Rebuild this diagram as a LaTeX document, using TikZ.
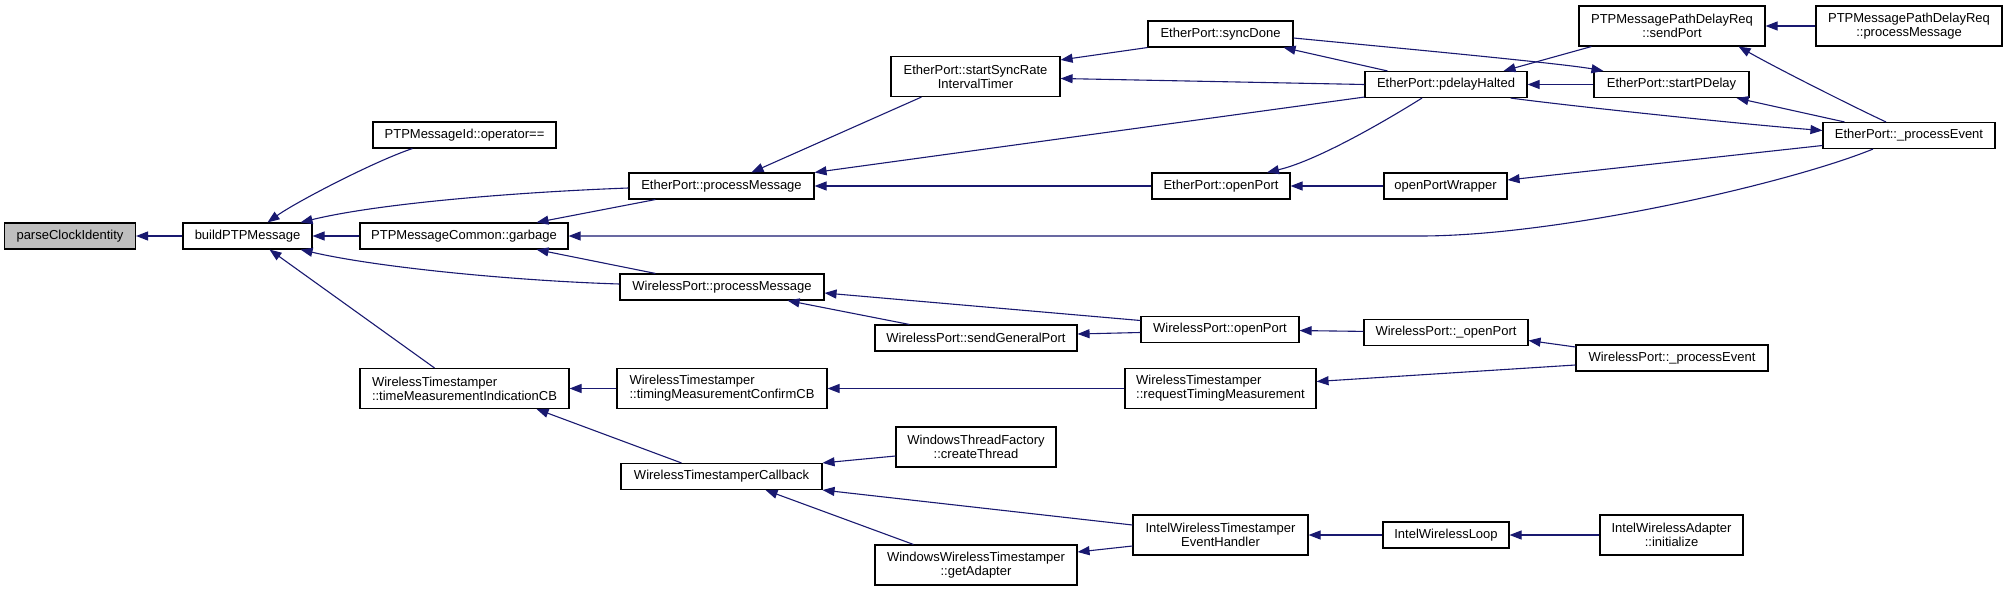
\documentclass[tikz,border=0pt]{standalone}
\usepackage{fontspec}
\setmainfont{Liberation Sans}
\usepackage{xcolor}
\usetikzlibrary{arrows.meta}
\definecolor{edgeblue}{HTML}{191970}

\begin{document}
\begin{tikzpicture}[
    x=1pt, y=-1pt,
    every node/.style={font=\fontsize{13}{14}\selectfont},
    fn/.style={draw, line width=1.1pt, fill=white, inner sep=0pt, minimum height=26pt, align=center},
    fntwo/.style={fn, minimum height=40pt},
    call/.style={draw=edgeblue, line width=1.1pt, -{Triangle[length=12pt, width=9pt]}}
  ]
  \useasboundingbox (0,0) rectangle (2008,591);

  % root
  \node[fn, fill=black!25, minimum width=131pt] (pci) at (70,236) {parseClockIdentity};
  \node[fn, minimum width=129pt] (bpm) at (247.5,236) {buildPTPMessage};

  % third column
  \node[fn, minimum width=183pt] (opeq) at (464.5,135) {PTPMessageId::operator==};
  \node[fn, minimum width=208pt] (garb) at (464,236) {PTPMessageCommon::garbage};
  \node[fntwo, align=left, minimum width=209pt] (tmicb) at (464.5,388.5) {WirelessTimestamper\\::timeMeasurementIndicationCB};

  % fourth column
  \node[fn, minimum width=185pt] (eppm) at (721.5,186) {EtherPort::processMessage};
  \node[fn, minimum width=204pt] (wppm) at (722,287) {WirelessPort::processMessage};
  \node[fntwo, align=left, minimum width=210pt] (tmccb) at (722,388.5) {WirelessTimestamper\\::timingMeasurementConfirmCB};
  \node[fn, minimum width=201pt] (wtscb) at (721.5,476.5) {WirelessTimestamperCallback};

  % fifth column
  \node[fntwo, minimum width=169pt] (ssrit) at (975.5,76.5) {EtherPort::startSyncRate\\IntervalTimer};
  \node[fn, minimum width=202pt] (sendgp) at (976,338) {WirelessPort::sendGeneralPort};
  \node[fntwo, minimum width=160pt] (crth) at (976,447) {WindowsThreadFactory\\::createThread};
  \node[fntwo, minimum width=202pt] (getad) at (976,565) {WindowsWirelessTimestamper\\::getAdapter};

  % sixth column
  \node[fn, minimum width=145pt] (syncd) at (1220.5,34) {EtherPort::syncDone};
  \node[fn, minimum width=138pt] (epopen) at (1221,186) {EtherPort::openPort};
  \node[fn, minimum width=158pt] (wpopen) at (1220,329.5) {WirelessPort::openPort};
  \node[fntwo, align=left, minimum width=191pt] (reqtm) at (1220.5,388.5) {WirelessTimestamper\\::requestTimingMeasurement};
  \node[fntwo, minimum width=175pt] (iwteh) at (1220.5,535) {IntelWirelessTimestamper\\EventHandler};

  % seventh column
  \node[fn, minimum width=162pt] (pdh) at (1446,84.5) {EtherPort::pdelayHalted};
  \node[fn, minimum width=123pt] (opw) at (1445.5,186) {openPortWrapper};
  \node[fn, minimum width=164pt] (wpopenu) at (1446,332.5) {WirelessPort::\_openPort};
  \node[fn, minimum width=126pt] (iwloop) at (1446,535) {IntelWirelessLoop};

  % eighth column
  \node[fntwo, minimum width=186pt] (sendport) at (1672,26) {PTPMessagePathDelayReq\\::sendPort};
  \node[fn, minimum width=155pt] (startpd) at (1671.5,84.5) {EtherPort::startPDelay};
  \node[fn, minimum width=192pt] (wpprocev) at (1672,358) {WirelessPort::\_processEvent};
  \node[fntwo, minimum width=143pt] (iwainit) at (1671.5,535) {IntelWirelessAdapter\\::initialize};

  % last column
  \node[fntwo, minimum width=186pt] (pdrpm) at (1909,26) {PTPMessagePathDelayReq\\::processMessage};
  \node[fn, minimum width=172pt] (procev) at (1909,135.5) {EtherPort::\_processEvent};

  % --- calls into buildPTPMessage ---
  \draw[call] (bpm) -- (pci);
  \draw[call] ([xshift=40pt]opeq.south west) .. controls (375,161) and (296,202) .. ([xshift=20pt]bpm.north);
  \draw[call] ([yshift=-2pt]eppm.west) .. controls (520,192) and (380,203) .. ([xshift=-12pt]bpm.north east);
  \draw[call] (garb) -- (bpm);
  \draw[call] ([yshift=3pt]wppm.west) .. controls (520,281) and (380,268) .. ([xshift=-12pt]bpm.south east);
  \draw[call] ([xshift=-30pt]tmicb.north) -- ([xshift=22pt]bpm.south);

  % garbage
  \draw[call] ([xshift=27pt]eppm.south west) -- ([xshift=-32pt]garb.north east);
  \draw[call] ([xshift=36pt]wppm.north west) -- ([xshift=-32pt]garb.south east);
  \draw[call] ([xshift=-36pt]procev.south) .. controls (1790,183) and (1560,236) .. (1420,236) -- (garb.east);

  % ether port
  \draw[call] ([xshift=31pt]ssrit.south west) -- ([xshift=30pt]eppm.north);
  \draw[call] ([yshift=1pt]pdh.south west) -- (eppm.north east);
  \draw[call] (epopen) -- (eppm);
  \draw[call] (syncd.south west) -- ([yshift=-4pt]ssrit.north east);
  \draw[call] (pdh.west) -- ([yshift=-2pt]ssrit.east);
  \draw[call] ([xshift=23pt]pdh.north west) -- ([xshift=-10pt]syncd.south east);
  \draw[call] ([xshift=-24pt]pdh.south) .. controls (1395,115) and (1320,160) .. ([xshift=46pt]epopen.north);
  \draw[call] (opw) -- (epopen);
  \draw[call] ([yshift=-4pt]syncd.east) .. controls (1360,44.5) and (1560,63) .. ([xshift=10pt]startpd.north west);
  \draw[call] ([xshift=13pt]sendport.south west) -- ([xshift=-24pt]pdh.north east);
  \draw[call] (startpd) -- (pdh);
  \draw[call] ([xshift=-17pt]pdh.south east) .. controls (1570,106) and (1740,124) .. ([yshift=5pt]procev.west);
  \draw[call] ([xshift=22pt]procev.north west) -- ([xshift=-13pt]startpd.south east);
  \draw[call] ([xshift=-23pt]procev.north) .. controls (1860,110) and (1780,70) .. ([xshift=-27pt]sendport.south east);
  \draw[call] (pdrpm) -- (sendport);
  \draw[call] ([yshift=-10pt]procev.west) -- ([yshift=6pt]opw.east);

  % wireless port
  \draw[call] ([xshift=35pt]sendgp.north west) -- ([xshift=-37pt]wppm.south east);
  \draw[call] ([yshift=9pt]wpopen.west) -- ([yshift=-6pt]wppm.east);
  \draw[call] ([yshift=-3pt]wpopen.west) -- ([yshift=4pt]sendgp.east);
  \draw[call] (wpopenu) -- (wpopen);
  \draw[call] ([yshift=11pt]wpprocev.west) -- ([yshift=-8pt]wpopenu.east);
  \draw[call] ([yshift=-7pt]wpprocev.west) -- ([yshift=7pt]reqtm.east);

  % timestamper
  \draw[call] (reqtm) -- (tmccb);
  \draw[call] (tmccb) -- (tmicb);
  \draw[call] ([xshift=61pt]wtscb.north west) -- ([xshift=-33pt]tmicb.south east);
  \draw[call] ([yshift=-9pt]crth.west) -- (wtscb.north east);
  \draw[call] ([yshift=10pt]iwteh.west) -- (wtscb.south east);
  \draw[call] ([xshift=39pt]getad.north west) -- ([xshift=-57pt]wtscb.south east);
  \draw[call] ([yshift=-11pt]iwteh.west) -- ([yshift=13pt]getad.east);
  \draw[call] (iwloop) -- (iwteh);
  \draw[call] (iwainit) -- (iwloop);

\end{tikzpicture}
\end{document}
